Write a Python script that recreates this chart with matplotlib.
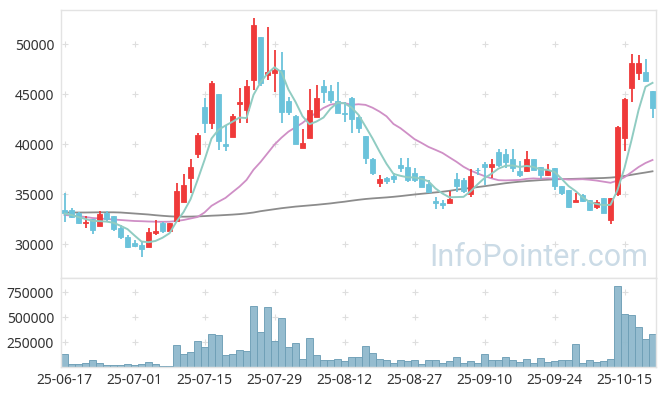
import matplotlib
matplotlib.use("Agg")
import matplotlib.pyplot as plt
import numpy as np

plt.rcParams['font.family'] = ['Noto Sans', 'DejaVu Sans']

tick_labels = ['25-06-17', '25-07-01', '25-07-15', '25-07-29', '25-08-12',
               '25-08-27', '25-09-10', '25-09-24', '25-10-15']

opens = [33400, 33400, 33070, 32070, 32500, 31830, 33070, 32800, 31600, 30700,
         30130, 29900, 29730, 31070, 32070, 31330, 32330, 34170, 36630, 38970,
         43730, 42130, 45000, 40000, 40730, 43970, 43400, 46400, 50730, 46900,
         47130, 47400, 44300, 42800, 39570, 40570, 42730, 45800, 45300, 44300,
         43130, 44570, 42730, 40800, 38500, 36130, 36630, 36800, 37900, 37730,
         37130, 36800, 36000, 34330, 34130, 34130, 36470, 36400, 35000, 37430,
         37970, 37670, 39170, 39000, 38470, 37300, 37330, 38500, 37730, 36900,
         37630, 35830, 35400, 34230, 34900, 34400, 33730, 34570, 32400, 35000,
         40630, 45630, 47070, 47170, 45300]
highs = [35130, 33570, 33200, 32800, 32500, 33330, 33330, 32800, 31900, 30930,
         30400, 30170, 31570, 32400, 32230, 32130, 36070, 37000, 38470, 41070,
         44570, 46300, 45000, 41900, 42970, 45570, 46400, 52630, 50730, 51730,
         49400, 49230, 44730, 42900, 41470, 45470, 45900, 46400, 45900, 46230,
         44230, 44730, 42900, 40800, 38570, 36900, 36730, 37070, 38570, 38570,
         37570, 36800, 36400, 34730, 34400, 35300, 37130, 36630, 37470, 37600,
         38230, 38470, 39470, 39470, 39470, 38330, 39300, 38500, 37730, 37970,
         37630, 35830, 35400, 35130, 35000, 34400, 34400, 34570, 34570, 41800,
         44630, 48970, 48900, 48500, 45300]
lows = [32230, 32570, 32000, 31630, 30970, 31830, 32230, 31300, 30470, 29630,
        29730, 28670, 29670, 30900, 31070, 31330, 32230, 34170, 35130, 38570,
        41130, 41470, 39400, 39330, 40670, 42070, 42070, 45400, 45830, 46400,
        45230, 42130, 42900, 39970, 39570, 40570, 42730, 44070, 44070, 43070,
        42230, 41130, 41070, 38000, 36900, 35670, 36000, 36130, 37230, 36230,
        36230, 35670, 35130, 33470, 33470, 34070, 35230, 35070, 34730, 36930,
        35900, 36570, 37730, 37570, 37230, 36730, 37230, 37400, 36470, 36800,
        35400, 34900, 33570, 34230, 34230, 33330, 33470, 33130, 31970, 34800,
        39300, 44170, 46400, 46330, 42630]
closes = [33130, 32730, 32070, 32230, 31400, 33000, 32500, 31500, 30700, 29730,
          29830, 29470, 31170, 31330, 31330, 32070, 35300, 35900, 37730, 40900,
          42130, 46070, 40300, 39830, 42800, 44230, 45800, 51900, 46070, 47230,
          47400, 43230, 43230, 39970, 40070, 43400, 44570, 45230, 44400, 43070,
          43030, 42470, 41570, 38570, 37130, 36500, 36330, 36500, 37630, 36400,
          36400, 35670, 35230, 34070, 33870, 34500, 35800, 35330, 36800, 37370,
          37670, 37970, 37900, 38170, 37570, 36900, 38500, 37400, 36900, 37400,
          35830, 35130, 33730, 34400, 34330, 33400, 34170, 33130, 34570, 41670,
          44470, 48070, 48070, 46330, 43630]
volumes = [130000, 30000, 30000, 40000, 73000, 40000, 20000, 20000, 20000, 30000,
           20000, 30000, 50000, 30000, 10000, 10000, 220000, 130000, 150000, 260000,
           200000, 330000, 320000, 120000, 130000, 170000, 160000, 610000, 350000, 600000,
           260000, 490000, 200000, 240000, 80000, 290000, 120000, 70000, 73000, 80000,
           60000, 100000, 100000, 210000, 140000, 80000, 70000, 40000, 70000, 60000,
           70000, 30000, 70000, 70000, 40000, 60000, 100000, 40000, 60000, 40000,
           130000, 70000, 70000, 100000, 70000, 50000, 80000, 40000, 90000, 50000,
           60000, 70000, 70000, 230000, 40000, 70000, 50000, 60000, 80000, 813000,
           530000, 520000, 400000, 280000, 330000]
ma5 = [33050, 32900, 32700, 32500, 32312, 32286, 32240, 32126, 31820, 31486,
       30852, 30246, 30180, 30306, 30626, 31074, 32240, 33186, 34466, 36380,
       38392, 40546, 41426, 41846, 42226, 42646, 42592, 44912, 46160, 47046,
       47680, 47166, 45432, 44212, 42780, 41980, 42248, 42648, 43534, 44134,
       44068, 43648, 42916, 41750, 40562, 39248, 38020, 37006, 36818, 36672,
       36652, 36520, 36266, 35554, 35048, 34668, 34694, 34714, 35260, 35960,
       36594, 37028, 37542, 37816, 37856, 37702, 37808, 37708, 37454, 37420,
       37206, 36532, 35798, 35298, 34684, 34198, 34006, 33886, 33920, 35388,
       37602, 40382, 43370, 45722, 46114]
ma20 = [32900, 32850, 32780, 32700, 32600, 32550, 32500, 32450, 32400, 32350,
        32300, 32280, 32250, 32230, 32220, 32230, 32300, 32400, 32550, 32701,
        33151, 33818, 34230, 34610, 35180, 35741, 36406, 37426, 38195, 39070,
        39948, 40636, 41239, 41671, 42108, 42675, 43138, 43605, 43938, 44047,
        44094, 43914, 43977, 43914, 43631, 43244, 42771, 42001, 41579, 41037,
        40487, 40109, 39709, 39414, 39104, 38659, 38221, 37726, 37346, 37061,
        36791, 36566, 36382, 36362, 36384, 36404, 36513, 36558, 36521, 36571,
        36543, 36516, 36441, 36457, 36480, 36425, 36344, 36234, 36122, 36337,
        36677, 37182, 37691, 38099, 38402]
ma60 = [33150, 33150, 33150, 33150, 33160, 33170, 33170, 33170, 33150, 33100,
        33050, 33000, 32950, 32880, 32820, 32770, 32740, 32730, 32740, 32760,
        32790, 32830, 32860, 32900, 32940, 32990, 33060, 33150, 33280, 33380,
        33480, 33580, 33660, 33740, 33800, 33860, 33920, 33990, 34060, 34150,
        34230, 34330, 34420, 34500, 34560, 34610, 34660, 34720, 34790, 34870,
        34950, 35020, 35090, 35160, 35230, 35320, 35430, 35520, 35600, 35690,
        35780, 35880, 35980, 36080, 36160, 36230, 36290, 36340, 36390, 36430,
        36470, 36490, 36500, 36520, 36540, 36560, 36580, 36600, 36640, 36700,
        36800, 36920, 37040, 37150, 37270]

UP = '#ef3a3a'
DOWN = '#6bc3db'
FRAME = '#e3e3e3'
TXT = '#333333'

o = np.array(opens, float)
h = np.array(highs, float)
l = np.array(lows, float)
c = np.array(closes, float)
v = np.array(volumes, float)
x = np.arange(len(o))
up = c >= o
cols = np.where(up, UP, DOWN)

fig = plt.figure(figsize=(6.65, 3.96), dpi=100)
ax = fig.add_axes([61/665, 118/396, 595/665, 268/396])
axv = fig.add_axes([61/665, 28.7/396, 595/665, 89.3/396])

xt = list(range(0, len(o), 10))

# main chart
ax.set_xlim(-0.5, len(o) - 0.5)
ax.set_ylim(26600, 53400)
yt = [30000, 35000, 40000, 45000, 50000]
gx, gy = np.meshgrid(xt, yt)
ax.plot(gx.ravel(), gy.ravel(), linestyle='none', marker='+', ms=5, mew=0.8,
        color='#dedede', zorder=0)

ax.text(0.987, 0.045, 'InfoPointer.com', transform=ax.transAxes, ha='right',
        va='baseline', fontsize=22, color='#cbdbe6', zorder=1,
        family=['Roboto', 'DejaVu Sans'])

ax.plot(x, ma60, color='#8c8c8c', lw=1.3, zorder=2)
ax.plot(x, ma20, color='#cf8fc6', lw=1.3, zorder=2)
ax.vlines(x, l, h, colors=cols, lw=1.3, zorder=3)
ax.bar(x, np.abs(c - o), bottom=np.minimum(o, c), width=0.72, color=cols,
       edgecolor=cols, linewidth=0.6, zorder=4)
ax.plot(x, ma5, color='#90ccc2', lw=1.4, zorder=5)

ax.set_yticks(yt)
ax.set_yticklabels([str(t) for t in yt])
ax.set_xticks(xt)
ax.tick_params(axis='x', labelbottom=False, length=0)
ax.tick_params(axis='y', length=0, pad=5, labelsize=10, labelcolor=TXT)
for s in ax.spines.values():
    s.set_color(FRAME)
    s.set_linewidth(1.0)

# volume chart
axv.set_xlim(-0.5, len(o) - 0.5)
axv.set_ylim(0, 893000)
vt = [250000, 500000, 750000]
gx2, gy2 = np.meshgrid(xt, vt)
axv.plot(gx2.ravel(), gy2.ravel(), linestyle='none', marker='+', ms=5, mew=0.8,
         color='#dedede', zorder=0)
axv.bar(x, v, width=1.0, color='#8fb9cd', edgecolor='#6f9fb7', linewidth=0.7,
        alpha=0.95, zorder=2)
axv.set_yticks(vt)
axv.set_yticklabels([str(t) for t in vt])
axv.set_xticks(xt)
axv.set_xticklabels(tick_labels)
axv.tick_params(axis='both', length=0, labelsize=10, labelcolor=TXT)
axv.tick_params(axis='y', pad=5)
axv.tick_params(axis='x', pad=4)
for s in axv.spines.values():
    s.set_color(FRAME)
    s.set_linewidth(1.0)

fig.savefig('out.png', dpi=100)
